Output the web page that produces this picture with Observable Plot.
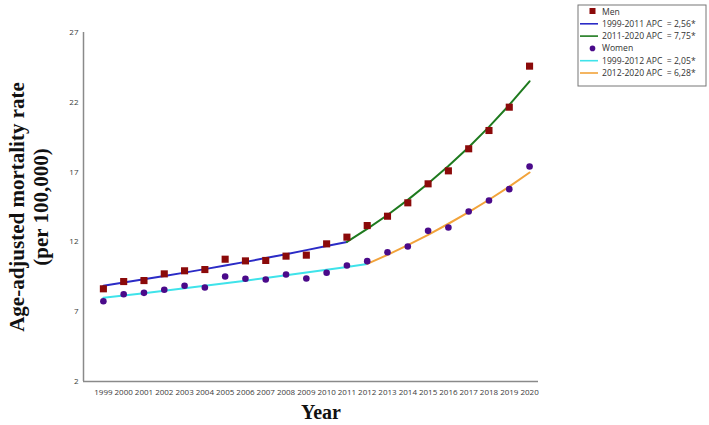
<!DOCTYPE html>
<html>
<head>
<meta charset="utf-8">
<script src="https://cdn.jsdelivr.net/npm/d3@7"></script>
<script src="https://cdn.jsdelivr.net/npm/@observablehq/plot@0.6"></script>
<style>
  html, body { margin: 0; padding: 0; background: #fff; }
  #chart svg { display: block; }
</style>
</head>
<body>
<div id="chart"></div>
<script>
const years = [1999,2000,2001,2002,2003,2004,2005,2006,2007,2008,2009,2010,2011,2012,2013,2014,2015,2016,2017,2018,2019,2020];
const menRates = [8.64,9.16,9.23,9.71,9.93,10.02,10.76,10.64,10.67,10.98,11.05,11.86,12.34,13.17,13.84,14.80,16.16,17.09,18.67,19.98,21.65,24.59];
const womenRates = [7.75,8.25,8.35,8.57,8.86,8.73,9.52,9.36,9.31,9.66,9.38,9.79,10.31,10.62,11.26,11.67,12.79,13.03,14.18,14.97,15.78,17.40];

const menFit1Years = [1999,2000,2001,2002,2003,2004,2005,2006,2007,2008,2009,2010,2011];
const menFit1 = [8.86,9.09,9.32,9.56,9.80,10.05,10.31,10.57,10.84,11.12,11.41,11.70,12.00];
const menFit2Years = [2011,2012,2013,2014,2015,2016,2017,2018,2019,2020];
const menFit2 = [12.00,12.93,13.93,15.01,16.18,17.43,18.78,20.24,21.81,23.50];
const womenFit1Years = [1999,2000,2001,2002,2003,2004,2005,2006,2007,2008,2009,2010,2011,2012];
const womenFit1 = [8.00,8.16,8.33,8.50,8.68,8.86,9.04,9.22,9.41,9.61,9.80,10.00,10.21,10.42];
const womenFit2Years = [2012,2013,2014,2015,2016,2017,2018,2019,2020];
const womenFit2 = [10.42,11.07,11.77,12.51,13.30,14.13,15.02,15.96,16.97];

const yTicks = [2,7,12,17,22,27];
const legendLabels = ["Men","1999-2011 APC  = 2,56*","2011-2020 APC  = 7,75*","Women","1999-2012 APC  = 2,05*","2012-2020 APC  = 6,28*"];

const colors = {men:"#8b0a0a", menFit1:"#2b2bc6", menFit2:"#1e7a1e", women:"#4a0a8a", womenFit1:"#3fe3ea", womenFit2:"#f2a33a"};

const zip = (xs, ys) => xs.map((x, i) => ({year: x, value: ys[i]}));
const men = zip(years, menRates);
const women = zip(years, womenRates);
const mf1 = zip(menFit1Years, menFit1);
const mf2 = zip(menFit2Years, menFit2);
const wf1 = zip(womenFit1Years, womenFit1);
const wf2 = zip(womenFit2Years, womenFit2);

const xDomain = [1998.02, 2020.44];

const chart = Plot.plot({
  width: 709,
  height: 425,
  marginLeft: 83,
  marginRight: 171,
  marginTop: 32,
  marginBottom: 44,
  style: {fontFamily: "'Open Sans', sans-serif", fontSize: "8px", color: "#3a3a3a", background: "#fff"},
  x: {domain: xDomain, ticks: years, tickFormat: d => String(d), tickSize: 0, tickPadding: 8, label: null},
  y: {domain: [2, 27], ticks: yTicks, tickSize: 0, tickPadding: 5, label: null},
  marks: [
    Plot.ruleY([yTicks[0]], {stroke: "#8a8a8a", strokeWidth: 1.5}),
    Plot.ruleX([xDomain[0]], {stroke: "#8a8a8a", strokeWidth: 1.5}),
    Plot.line(mf1, {x: "year", y: "value", stroke: colors.menFit1, strokeWidth: 2}),
    Plot.line(mf2, {x: "year", y: "value", stroke: colors.menFit2, strokeWidth: 2}),
    Plot.line(wf1, {x: "year", y: "value", stroke: colors.womenFit1, strokeWidth: 2}),
    Plot.line(wf2, {x: "year", y: "value", stroke: colors.womenFit2, strokeWidth: 2}),
    Plot.dot(men, {x: "year", y: "value", symbol: "square", r: 4, fill: colors.men, stroke: "none"}),
    Plot.dot(women, {x: "year", y: "value", symbol: "circle", r: 3.3, fill: colors.women, stroke: "none"})
  ]
});

const svg = d3.select(chart);

// Axis titles
const yTitle = svg.append("text")
  .attr("transform", "translate(24,207) rotate(-90)")
  .attr("text-anchor", "middle")
  .style("font-family", "'Liberation Serif', 'Times New Roman', serif")
  .style("font-weight", "bold")
  .style("font-size", "21px")
  .attr("fill", "#111");
yTitle.append("tspan").attr("x", 0).attr("dy", 0).text("Age-adjusted mortality rate");
yTitle.append("tspan").attr("x", 0).attr("dy", 24).text("(per 100,000)");

svg.append("text")
  .attr("x", 321).attr("y", 419)
  .attr("text-anchor", "middle")
  .style("font-family", "'Liberation Serif', 'Times New Roman', serif")
  .style("font-weight", "bold")
  .style("font-size", "20px")
  .attr("fill", "#111")
  .text("Year");

// Legend
const lg = svg.append("g").attr("transform", "translate(578,5)").attr("text-anchor", "start");
lg.append("rect").attr("x", 0).attr("y", 0).attr("width", 128).attr("height", 81)
  .attr("fill", "#fff").attr("stroke", "#777").attr("stroke-width", 1);
const legendItems = [
  {type: "square", color: colors.men},
  {type: "line", color: colors.menFit1},
  {type: "line", color: colors.menFit2},
  {type: "circle", color: colors.women},
  {type: "line", color: colors.womenFit1},
  {type: "line", color: colors.womenFit2}
];
legendItems.forEach((it, i) => {
  const cy = 6.5 + i * 12.3;
  if (it.type === "square") {
    lg.append("rect").attr("x", 11.5).attr("y", cy - 3.5).attr("width", 6).attr("height", 6).attr("fill", it.color);
  } else if (it.type === "circle") {
    lg.append("circle").attr("cx", 14.5).attr("cy", cy).attr("r", 2.8).attr("fill", it.color);
  } else {
    lg.append("line").attr("x1", 2).attr("x2", 20).attr("y1", cy).attr("y2", cy)
      .attr("stroke", it.color).attr("stroke-width", 1.6);
  }
  lg.append("text").attr("x", 24).attr("y", cy + 3)
    .attr("text-anchor", "start")
    .style("font-family", "'Open Sans', sans-serif").style("font-size", "8.6px")
    .attr("fill", "#333").text(legendLabels[i]);
});

document.getElementById("chart").appendChild(chart);
</script>
</body>
</html>
